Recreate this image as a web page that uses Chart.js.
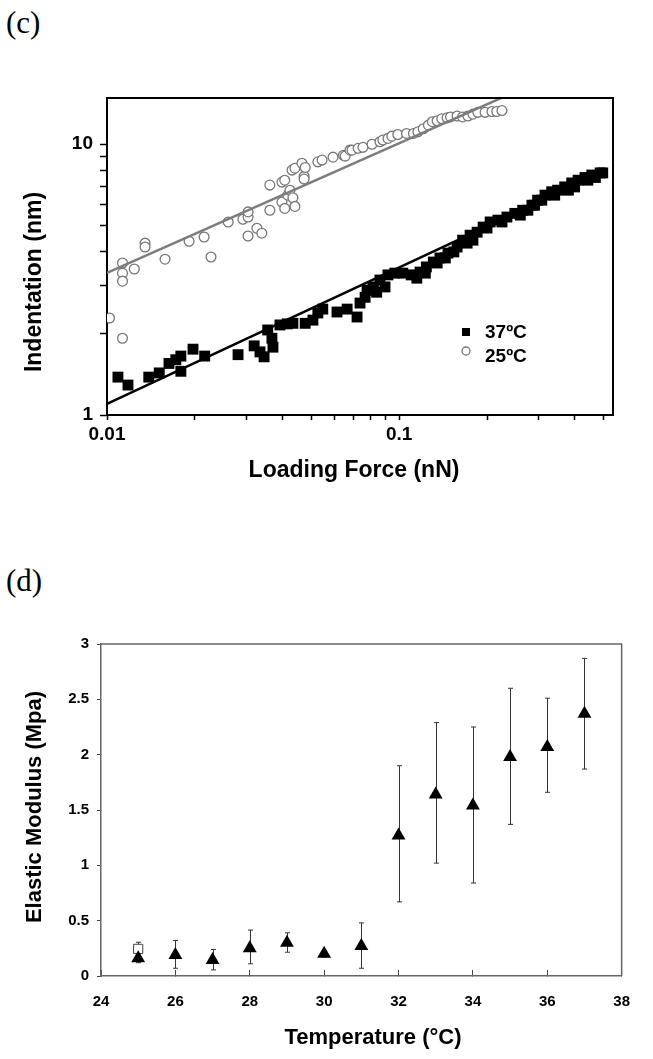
<!DOCTYPE html>
<html>
<head>
<meta charset="utf-8">
<script src="https://cdn.jsdelivr.net/npm/chart.js"></script>
<style>
  body { margin: 0; background: #fff; width: 653px; height: 1059px; position: relative; overflow: hidden; }
  .panel { position: absolute; left: 6px; font-family: 'Liberation Serif', 'Times New Roman', serif; font-size: 31px; line-height: 1; }
  canvas { position: absolute; left: 0; }
</style>
</head>
<body>
<div class="panel" style="top:7px">(c)</div>
<canvas id="forceChart" width="653" height="520" style="top:0"></canvas>
<div class="panel" style="top:565px">(d)</div>
<canvas id="modulusChart" width="653" height="539" style="top:520px"></canvas>
<script>
// (c) indentation vs loading force, 25ºC (open circles)
const force25 = [0.0102, 0.0113, 0.0113, 0.0113, 0.0113, 0.0124, 0.0135, 0.0135, 0.0158, 0.0191,
  0.0215, 0.0227, 0.0260, 0.0292, 0.0304, 0.0304, 0.0304, 0.0326, 0.0339, 0.0361,
  0.0361, 0.0397, 0.0397, 0.0406, 0.0406, 0.0416, 0.0423, 0.0430, 0.0433, 0.0440,
  0.0440, 0.0465, 0.0473, 0.0473, 0.0477, 0.0527, 0.0545, 0.0594, 0.0645, 0.0654,
  0.0679, 0.0690, 0.0724, 0.0752, 0.0808, 0.0860, 0.0880, 0.0916, 0.0944, 0.099,
  0.106, 0.112, 0.116, 0.121, 0.126, 0.130, 0.135, 0.140, 0.146, 0.150,
  0.158, 0.165, 0.172, 0.179, 0.186, 0.197, 0.208, 0.216, 0.225];
const indent25 = [2.28, 1.92, 3.64, 3.34, 3.12, 3.46, 4.31, 4.17, 3.76, 4.38,
  4.54, 3.83, 5.16, 5.28, 5.38, 5.62, 4.58, 4.89, 4.69, 5.70,
  7.06, 7.24, 6.11, 7.36, 5.79, 6.48, 6.76, 8.02, 6.34, 5.89,
  8.15, 8.5, 7.6, 7.43, 8.2, 8.6, 8.73, 8.95, 9.10, 9.03,
  9.5, 9.5, 9.65, 9.73, 9.99, 10.2, 10.35, 10.5, 10.7, 10.85,
  10.95, 10.95, 11.1, 11.4, 11.75, 12.1, 12.2, 12.4, 12.5, 12.6,
  12.7, 12.6, 12.7, 12.9, 13.1, 13.1, 13.2, 13.2, 13.3];

// 37ºC (filled squares)
const force37 = [0.0109, 0.0118, 0.0139, 0.0151, 0.0163, 0.0172, 0.0179, 0.0179, 0.0197, 0.0216,
  0.0281, 0.0319, 0.0334, 0.0345, 0.0355, 0.0367, 0.0370, 0.0391, 0.0414, 0.0433,
  0.0477, 0.0507, 0.0527, 0.0548, 0.0613, 0.0664, 0.0718, 0.0735, 0.0765, 0.0777,
  0.0815, 0.0815, 0.0838, 0.0860, 0.0895, 0.0916, 0.0967, 0.103, 0.110, 0.115,
  0.118, 0.123, 0.124, 0.131, 0.135, 0.138, 0.144, 0.147, 0.154, 0.158,
  0.165, 0.171, 0.175, 0.179, 0.185, 0.194, 0.200, 0.205, 0.218, 0.225,
  0.234, 0.249, 0.260, 0.265, 0.276, 0.285, 0.291, 0.298, 0.308, 0.316,
  0.333, 0.341, 0.349, 0.369, 0.380, 0.390, 0.399, 0.410, 0.433, 0.443,
  0.457, 0.470, 0.488, 0.498];
const indent37 = [1.38, 1.29, 1.38, 1.43, 1.55, 1.60, 1.65, 1.45, 1.75, 1.65,
  1.67, 1.80, 1.71, 1.64, 2.06, 1.92, 1.78, 2.15, 2.17, 2.18,
  2.18, 2.24, 2.38, 2.46, 2.40, 2.46, 2.30, 2.59, 2.72, 2.89,
  2.89, 2.97, 2.84, 3.15, 2.97, 3.29, 3.34, 3.34, 3.29, 3.20,
  3.37, 3.34, 3.52, 3.67, 3.64, 3.80, 3.80, 3.96, 4.00, 4.17,
  4.42, 4.31, 4.61, 4.42, 4.73, 4.94, 4.90, 5.16, 5.24, 5.16,
  5.38, 5.55, 5.47, 5.70, 5.70, 5.95, 5.95, 6.21, 6.21, 6.48,
  6.67, 6.48, 6.76, 6.95, 6.76, 7.19, 6.95, 7.36, 7.53, 7.36,
  7.69, 7.53, 7.83, 7.83];

// power-law fit lines (end points)
const fit25Force = [0.01, 0.23];
const fit25Indent = [3.35, 15.0];
const fit37Force = [0.01, 0.49];
const fit37Indent = [1.10, 7.8];

const forceTicks = [0.01, 0.02, 0.03, 0.04, 0.05, 0.06, 0.07, 0.08, 0.09, 0.1, 0.2, 0.3, 0.4, 0.5];
const forceLabels = [0.01, 0.1];
const indentTicks = [1, 2, 3, 4, 5, 6, 7, 8, 9, 10];
const indentLabels = [1, 10];

// (d) elastic modulus vs temperature
const temps = [25, 26, 27, 28, 29, 30, 31, 32, 33, 34, 35, 36, 37];
const modulus = [0.16, 0.19, 0.145, 0.25, 0.30, 0.20, 0.27, 1.27, 1.64, 1.54, 1.98, 2.07, 2.37];
const modLow = [0.12, 0.07, 0.055, 0.11, 0.215, 0.17, 0.07, 0.67, 1.02, 0.84, 1.37, 1.66, 1.87];
const modHigh = [0.20, 0.32, 0.24, 0.415, 0.39, 0.23, 0.48, 1.90, 2.29, 2.25, 2.60, 2.51, 2.87];
const refTemp = [25];
const refMod = [0.245];
const refLow = [0.19];
const refHigh = [0.305];

const tempTicks = [24, 26, 28, 30, 32, 34, 36, 38];
const modTicks = [0, 0.5, 1, 1.5, 2, 2.5, 3];

Chart.defaults.font.family = "'Liberation Sans', Arial, sans-serif";
Chart.defaults.font.weight = 'bold';
Chart.defaults.color = '#000';

const toPoints = (xs, ys) => xs.map((x, i) => ({x: x, y: ys[i]}));

// top and right edges of the plot box
const frame = {
  id: 'frame',
  afterDraw(chart, args, opts) {
    const {ctx, chartArea: a} = chart;
    ctx.save();
    ctx.strokeStyle = opts.color;
    ctx.lineWidth = opts.width;
    ctx.beginPath();
    ctx.moveTo(a.left, a.top);
    ctx.lineTo(a.right, a.top);
    ctx.lineTo(a.right, a.bottom);
    ctx.stroke();
    ctx.restore();
  }
};

// axis titles placed like the original figure
const axisTitles = {
  id: 'axisTitles',
  afterDraw(chart, args, opts) {
    const ctx = chart.ctx;
    ctx.save();
    ctx.font = opts.font;
    ctx.fillStyle = '#000';
    ctx.textAlign = 'center';
    ctx.textBaseline = 'middle';
    ctx.fillText(opts.x.text, opts.x.cx, opts.x.cy);
    ctx.translate(opts.y.cx, opts.y.cy);
    ctx.rotate(-Math.PI / 2);
    ctx.fillText(opts.y.text, 0, 0);
    ctx.restore();
  }
};

// legend inside the plot for (c)
const innerLegend = {
  id: 'innerLegend',
  afterDraw(chart, args, opts) {
    if (!opts.items) return;
    const ctx = chart.ctx;
    ctx.save();
    ctx.font = opts.font;
    ctx.textBaseline = 'middle';
    opts.items.forEach(it => {
      const ds = chart.data.datasets[it.index];
      ctx.fillStyle = ds.backgroundColor;
      ctx.strokeStyle = ds.borderColor;
      ctx.lineWidth = ds.borderWidth;
      ctx.beginPath();
      if (ds.pointStyle === 'rect') {
        ctx.rect(it.mx - it.size / 2, it.my - it.size / 2, it.size, it.size);
      } else {
        ctx.arc(it.mx, it.my, it.size / 2, 0, Math.PI * 2);
      }
      ctx.fill();
      if (ds.borderWidth) ctx.stroke();
      ctx.fillStyle = '#000';
      ctx.fillText(ds.label, it.tx, it.ty);
    });
    ctx.restore();
  }
};

// error bars for (d), drawn under the markers
const errorBars = {
  id: 'errorBars',
  beforeDatasetsDraw(chart) {
    const ctx = chart.ctx;
    const xs = chart.scales.x, ys = chart.scales.y;
    ctx.save();
    chart.data.datasets.forEach(ds => {
      if (!ds.errLow) return;
      ctx.strokeStyle = ds.errColor;
      ctx.lineWidth = 1;
      ds.data.forEach((p, i) => {
        const px = Math.round(xs.getPixelForValue(p.x)) + 0.5;
        const lo = ys.getPixelForValue(ds.errLow[i]);
        const hi = ys.getPixelForValue(ds.errHigh[i]);
        ctx.beginPath();
        ctx.moveTo(px, lo); ctx.lineTo(px, hi);
        ctx.moveTo(px - 2.5, lo); ctx.lineTo(px + 2.5, lo);
        ctx.moveTo(px - 2.5, hi); ctx.lineTo(px + 2.5, hi);
        ctx.stroke();
      });
    });
    ctx.restore();
  }
};

new Chart(document.getElementById('forceChart'), {
  type: 'scatter',
  data: {
    datasets: [
      {
        label: 'fit 25',
        type: 'line',
        data: toPoints(fit25Force, fit25Indent),
        borderColor: '#7d7d7d',
        borderWidth: 2.5,
        pointRadius: 0
      },
      {
        label: 'fit 37',
        type: 'line',
        data: toPoints(fit37Force, fit37Indent),
        borderColor: '#000',
        borderWidth: 2.5,
        pointRadius: 0
      },
      {
        label: '37ºC',
        data: toPoints(force37, indent37),
        pointStyle: 'rect',
        pointRadius: 7.7,
        backgroundColor: '#000',
        borderColor: '#000',
        borderWidth: 0
      },
      {
        label: '25ºC',
        data: toPoints(force25, indent25),
        pointStyle: 'circle',
        pointRadius: 4.9,
        backgroundColor: '#fff',
        borderColor: '#777',
        borderWidth: 1.3
      }
    ]
  },
  options: {
    responsive: false,
    animation: false,
    events: [],
    layout: { padding: { top: 98, right: 40, left: 0, bottom: 0 } },
    scales: {
      x: {
        type: 'logarithmic',
        min: 0.01,
        max: 0.54,
        afterBuildTicks: s => { s.ticks = forceTicks.map(v => ({value: v})); },
        afterFit: s => { s.height = 105; },
        ticks: {
          autoSkip: false, maxRotation: 0, padding: 3,
          font: { size: 19, weight: 'bold' },
          callback: v => forceLabels.includes(v) ? String(v) : ''
        },
        grid: { drawOnChartArea: false, tickLength: 5, tickColor: '#000', tickWidth: 1.5 },
        border: { color: '#000', width: 2 }
      },
      y: {
        type: 'logarithmic',
        min: 1,
        max: 14.8,
        afterBuildTicks: s => { s.ticks = indentTicks.map(v => ({value: v})); },
        afterFit: s => { s.width = 107; },
        ticks: {
          autoSkip: false, padding: 7,
          font: { size: 19, weight: 'bold' },
          callback: v => indentLabels.includes(v) ? String(v) : ''
        },
        grid: { drawOnChartArea: false, tickLength: 7, tickColor: '#000', tickWidth: 1.5 },
        border: { color: '#000', width: 2 }
      }
    },
    plugins: {
      legend: { display: false },
      tooltip: { enabled: false },
      frame: { color: '#000', width: 2 },
      axisTitles: {
        font: "bold 23px 'Liberation Sans', Arial, sans-serif",
        x: { text: 'Loading Force (nN)', cx: 354, cy: 471 },
        y: { text: 'Indentation (nm)', cx: 35, cy: 282 }
      },
      innerLegend: {
        font: "bold 19px 'Liberation Sans', Arial, sans-serif",
        items: [
          { index: 2, size: 8, mx: 466, my: 332, tx: 485, ty: 333 },
          { index: 3, size: 8, mx: 466, my: 351, tx: 485, ty: 357 }
        ]
      }
    }
  },
  plugins: [frame, axisTitles, innerLegend]
});

new Chart(document.getElementById('modulusChart'), {
  type: 'scatter',
  data: {
    datasets: [
      {
        label: 'Modulus',
        data: toPoints(temps, modulus),
        errLow: modLow,
        errHigh: modHigh,
        errColor: '#333',
        pointStyle: 'triangle',
        pointRadius: 8,
        backgroundColor: '#000',
        borderColor: '#000',
        borderWidth: 0
      },
      {
        label: 'Reference',
        data: toPoints(refTemp, refMod),
        errLow: refLow,
        errHigh: refHigh,
        errColor: '#333',
        pointStyle: 'rect',
        pointRadius: 6.5,
        backgroundColor: '#fff',
        borderColor: '#444',
        borderWidth: 1
      }
    ]
  },
  options: {
    responsive: false,
    animation: false,
    events: [],
    layout: { padding: { top: 124, right: 20, left: 0, bottom: 0 } },
    scales: {
      x: {
        type: 'linear',
        min: 24,
        max: 38,
        afterBuildTicks: s => { s.ticks = tempTicks.map(v => ({value: v})); },
        afterFit: s => { s.height = 83; },
        ticks: { autoSkip: false, maxRotation: 0, padding: 23, font: { size: 15, weight: 'bold' } },
        grid: { drawOnChartArea: false, tickLength: -6, tickColor: '#444', tickWidth: 1 },
        border: { color: '#666', width: 1.5 }
      },
      y: {
        type: 'linear',
        min: 0,
        max: 3,
        afterBuildTicks: s => { s.ticks = modTicks.map(v => ({value: v})); },
        afterFit: s => { s.width = 101; },
        ticks: { autoSkip: false, padding: 8, font: { size: 15, weight: 'bold' }, callback: v => String(v) },
        grid: { drawOnChartArea: false, tickLength: 4, tickColor: '#444', tickWidth: 1 },
        border: { color: '#666', width: 1.5 }
      }
    },
    plugins: {
      legend: { display: false },
      tooltip: { enabled: false },
      frame: { color: '#666', width: 1.5 },
      axisTitles: {
        font: "bold 22px 'Liberation Sans', Arial, sans-serif",
        x: { text: 'Temperature (°C)', cx: 373, cy: 518 },
        y: { text: 'Elastic Modulus (Mpa)', cx: 35, cy: 287 }
      }
    }
  },
  plugins: [frame, axisTitles, errorBars]
});
</script>
</body>
</html>
